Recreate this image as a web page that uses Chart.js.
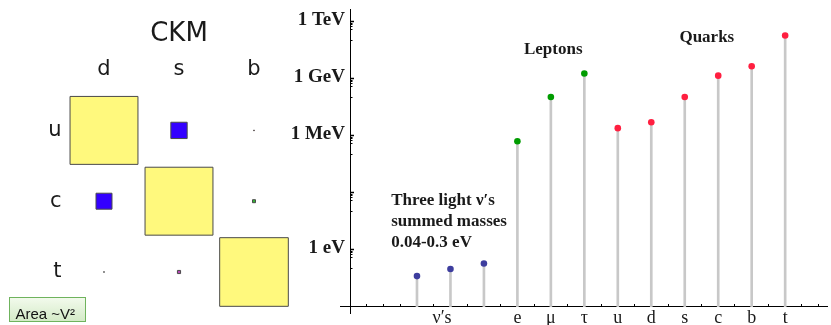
<!DOCTYPE html>
<html><head><meta charset="utf-8">
<script src="https://cdn.jsdelivr.net/npm/chart.js@4/dist/chart.umd.min.js"></script>
<style>
html,body{margin:0;padding:0;background:#fff;}
#wrap{position:relative;width:831px;height:325px;overflow:hidden;background:#fff;}
canvas{position:absolute;top:0;left:0;}
</style></head><body>
<div id="wrap"><canvas id="ckm" width="300" height="325"></canvas><canvas id="mass" width="831" height="325"></canvas></div>
<script>
// ---------- CKM matrix (square side ~ |V|, area ~ |V|^2) ----------
const ckmCols = ['d', 's', 'b'];
const ckmRows = ['u', 'c', 't'];
const ckmMagnitudes = [
  [0.974, 0.234, 0.010],
  [0.229, 0.974, 0.043],
  [0.010, 0.045, 0.984]
];
const ckmFill = [
  ['#fff97d', '#3300ff', '#cc3b3b'],
  ['#3300ff', '#fff97d', '#33b833'],
  ['#333333', '#b548b5', '#fff97d']
];
const ckmTitle = 'CKM';
const ckmNote = 'Area ~V²';

// ---------- Fermion masses (eV) ----------
const particles = ['ν1', 'ν2', 'ν3', 'e', 'μ', 'τ', 'u', 'd', 's', 'c', 'b', 't'];
const particleSlots = [2, 3, 4, 5, 6, 7, 8, 9, 10, 11, 12, 13];
const massesEV = [0.041, 0.097, 0.19, 5.1e5, 1.1e8, 1.9e9, 2.5e6, 5.1e6, 1.1e8, 1.45e9, 4.5e9, 1.9e11];
const families = ['nu', 'nu', 'nu', 'lepton', 'lepton', 'lepton', 'quark', 'quark', 'quark', 'quark', 'quark', 'quark'];
const familyColors = { nu: '#3d3d9e', lepton: '#009c00', quark: '#ff1f40' };

const xLabelSlots = [2.75, 5, 6, 7, 8, 9, 10, 11, 12, 13];
const xLabels = ['ν′s', 'e', 'μ', 'τ', 'u', 'd', 's', 'c', 'b', 't'];
const yTickValues = [1, 1e3, 1e6, 1e9, 1e12];
const yTickLabels = ['1 eV', '', '1 MeV', '1 GeV', '1 TeV'];
const minorTickFactors = [0.85, 0.7, 0.55, 0.4, 0.1];

const noteTexts = [['Leptons'], ['Quarks'], ['Three light ν′s', 'summed masses', '0.04-0.3 eV']];
const noteX = [6.07, 10.66, 1.23];
const noteY = [1.9e10, 8.9e10, 226];
const noteAlign = ['center', 'center', 'left'];

const yMin = Math.pow(10, -3.33), yMax = Math.pow(10, 12.67), yCross = 1e-3;
const xMin = -0.3, xMax = 14.25;

// measure widest y label so the mirrored labels can be right-aligned next to the axis
const yLabelFont = { family: 'Liberation Serif', size: 19, weight: 'bold' };
const mctx = document.createElement('canvas').getContext('2d');
mctx.font = 'bold 19px Liberation Serif';
const yWidest = Math.max(...yTickLabels.map(t => mctx.measureText(t).width));

// ---------- CKM chart ----------
const ckmCells = [];
ckmRows.forEach((r, ri) => ckmCols.forEach((c, ci) => ckmCells.push({ x: ci, y: ri, v: ckmMagnitudes[ri][ci] })));

const notePluginCKM = {
  id: 'areaNote',
  afterDraw(chart) {
    const ctx = chart.ctx;
    ctx.save();
    const g = ctx.createLinearGradient(0, 298, 0, 322);
    g.addColorStop(0, '#f2faec'); g.addColorStop(1, '#d3eac6');
    ctx.fillStyle = g;
    ctx.fillRect(9.5, 297.5, 76, 24);
    ctx.strokeStyle = '#6fb35d'; ctx.lineWidth = 1;
    ctx.strokeRect(9.5, 297.5, 76, 24);
    ctx.font = '15px "Liberation Sans"';
    ctx.fillStyle = '#111'; ctx.textBaseline = 'alphabetic'; ctx.textAlign = 'left';
    ctx.fillText(ckmNote, 15.5, 319);
    ctx.restore();
  }
};

new Chart(document.getElementById('ckm'), {
  type: 'scatter',
  data: { datasets: [{
    data: ckmCells,
    pointStyle: 'rect',
    pointRadius: ctx => {
      const xs = ctx.chart.scales.x;
      const unit = Math.abs(xs.getPixelForValue(1) - xs.getPixelForValue(0));
      return (ctx.raw ? ctx.raw.v : 0) * unit * 0.93 / Math.SQRT2;
    },
    pointBackgroundColor: ctx => ctx.raw ? ckmFill[ctx.raw.y][ctx.raw.x] : '#000',
    pointBorderColor: '#4a4a4a',
    pointBorderWidth: 1
  }] },
  options: {
    responsive: false, animation: false, events: [],
    layout: { padding: { top: 0, right: 8.5, bottom: 14, left: 0 } },
    plugins: {
      legend: { display: false }, tooltip: { enabled: false },
      title: { display: true, text: ckmTitle, fullSize: false, color: '#1a1a1a',
        font: { family: 'DejaVu Sans', size: 26, weight: 'normal' }, padding: { top: 19, bottom: 0 } }
    },
    scales: {
      x: { type: 'linear', position: 'top', min: -0.5, max: 2.5,
        afterBuildTicks: s => { s.ticks = ckmCols.map((c, i) => ({ value: i })); },
        afterFit: s => { s.height = 44.8; },
        ticks: { callback: v => ckmCols[v], font: { family: 'DejaVu Sans', size: 21 }, color: '#1a1a1a', padding: 12.4, maxRotation: 0, autoSkip: false },
        grid: { display: false, drawTicks: false }, border: { display: false } },
      y: { type: 'linear', position: 'left', reverse: true, min: -0.5, max: 2.5,
        afterBuildTicks: s => { s.ticks = ckmRows.map((r, i) => ({ value: i })); },
        afterFit: s => { s.width = 66.5; },
        ticks: { callback: v => ckmRows[v], font: { family: 'DejaVu Sans', size: 21 }, color: '#1a1a1a', padding: 5, autoSkip: false },
        grid: { display: false, drawTicks: false }, border: { display: false } }
    }
  },
  plugins: [notePluginCKM]
});

// ---------- Mass chart ----------
const notesPlugin = {
  id: 'massNotes',
  afterDraw(chart) {
    const { ctx } = chart; const xs = chart.scales.x, ys = chart.scales.y;
    ctx.save();
    ctx.font = 'bold 17px "Liberation Serif"';
    ctx.fillStyle = '#1a1a1a'; ctx.textBaseline = 'alphabetic';
    noteTexts.forEach((lines, i) => {
      ctx.textAlign = noteAlign[i];
      const px = xs.getPixelForValue(noteX[i]);
      const py = ys.getPixelForValue(noteY[i]);
      lines.forEach((t, k) => ctx.fillText(t, px, py + k * 21));
    });
    ctx.restore();
  }
};

const minorTicks = [];
yTickValues.forEach(v => minorTickFactors.forEach(f => minorTicks.push(v * f)));

new Chart(document.getElementById('mass'), {
  type: 'bar',
  data: { datasets: [
    { type: 'scatter', order: 1,
      data: particleSlots.map((s, i) => ({ x: s, y: massesEV[i] })),
      pointRadius: 3.3, pointBorderWidth: 0,
      pointBackgroundColor: families.map(f => familyColors[f]) },
    { type: 'bar', order: 2,
      data: particleSlots.map((s, i) => ({ x: s, y: [yCross, massesEV[i]] })),
      backgroundColor: '#c8c8c8', borderWidth: 0, barThickness: 2 }
  ] },
  options: {
    responsive: false, animation: false, events: [],
    layout: { padding: { top: 9, right: 0, bottom: 0, left: 0 } },
    plugins: { legend: { display: false }, tooltip: { enabled: false } },
    scales: {
      x: { type: 'linear', axis: 'x', position: { y: yCross }, min: xMin, max: xMax, offset: false,
        ticks: { display: false, stepSize: 0.5, autoSkip: false, includeBounds: false },
        grid: { drawOnChartArea: false, drawTicks: true, tickLength: -3, tickColor: '#000', tickWidth: 1, offset: false },
        border: { display: true, color: '#000', width: 1 } },
      xl: { type: 'linear', axis: 'x', position: 'bottom', min: xMin, max: xMax, offset: false,
        afterBuildTicks: s => { s.ticks = xLabelSlots.map(v => ({ value: v })); },
        afterFit: s => { s.height = 12; },
        ticks: { callback: (v, i) => xLabels[i], font: { family: 'Liberation Serif', size: 18 }, color: '#1a1a1a', mirror: true, padding: -16, autoSkip: false, maxRotation: 0 },
        grid: { display: false, drawTicks: false, offset: false }, border: { display: false } },
      y: { type: 'logarithmic', axis: 'y', position: 'left', min: yMin, max: yMax,
        afterBuildTicks: s => { s.ticks = yTickValues.map(v => ({ value: v })); },
        afterFit: s => { s.width = 340; },
        ticks: { callback: (v, i) => yTickLabels[i], font: yLabelFont, color: '#1a1a1a', mirror: true, crossAlign: 'far', padding: 5 - yWidest, labelOffset: -2, autoSkip: false },
        grid: { display: false, drawTicks: false }, border: { display: false } },
      y2: { type: 'logarithmic', axis: 'y', position: { x: 0 }, min: yMin, max: yMax,
        afterBuildTicks: s => { s.ticks = yTickValues.map(v => ({ value: v })); },
        ticks: { display: false, autoSkip: false },
        grid: { drawOnChartArea: false, drawTicks: true, tickLength: -4, tickWidth: 1.5, tickColor: '#000' },
        border: { display: true, color: '#000', width: 1 } },
      y3: { type: 'logarithmic', axis: 'y', position: { x: 0 }, min: yMin, max: yMax,
        afterBuildTicks: s => { s.ticks = minorTicks.map(v => ({ value: v })); },
        ticks: { display: false, autoSkip: false },
        grid: { drawOnChartArea: false, drawTicks: true, tickLength: -2.5, tickWidth: 1, tickColor: '#000' },
        border: { display: false } }
    }
  },
  plugins: [notesPlugin]
});
</script>
</body></html>
